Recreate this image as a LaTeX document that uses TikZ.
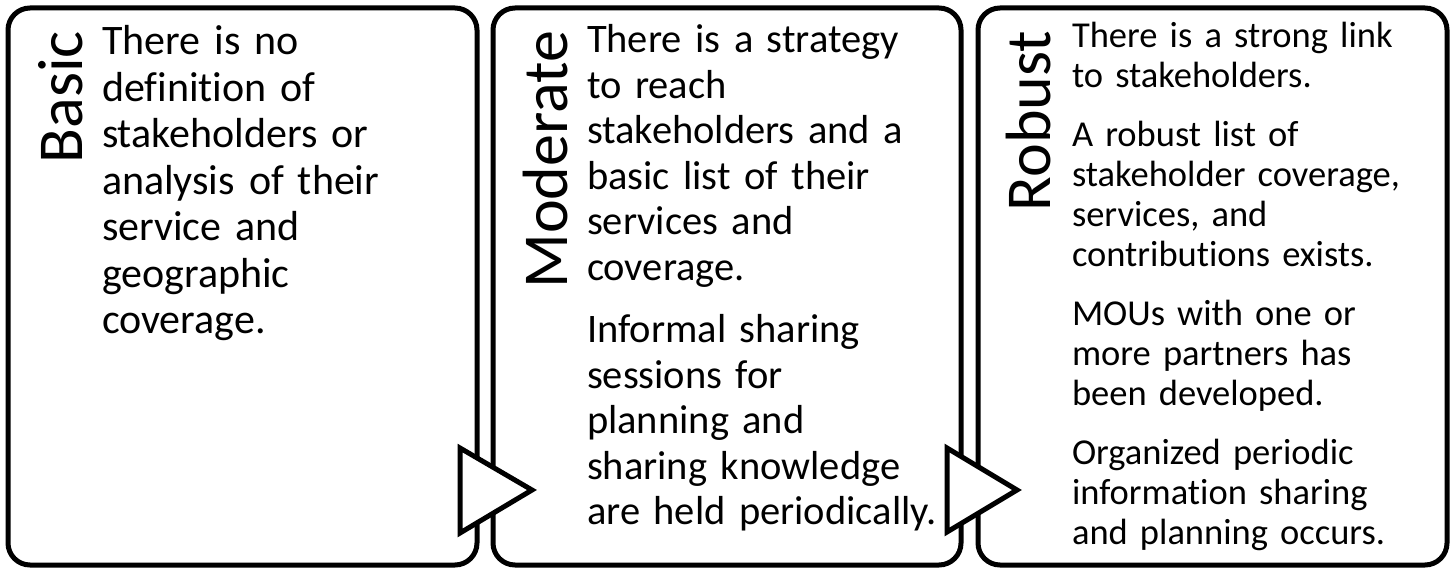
\documentclass[tikz,border=0pt]{standalone}
\usepackage{fontspec}
\setmainfont{Carlito}[Ligatures={NoCommon,NoContextual,NoRequired}, Contextuals=NoAlternate, WordSpace=0.78]
\tikzset{
  levelbox/.style={draw=black, line width=5pt, rounded corners=22pt, fill=white},
  leveltitle/.style={rotate=90, anchor=base east, font=\fontsize{64}{64}\selectfont},
  leveltext/.style={anchor=base west, align=left, text width=375pt},
  stepmark/.style={draw=black, line width=5pt, fill=white, line join=miter},
}
\begin{document}
\begin{tikzpicture}[x=1pt, y=-1pt, inner sep=0pt, outer sep=0pt]
\useasboundingbox (0,0) rectangle (1455,569);
% the three levels
\node[levelbox, minimum width=469pt, minimum height=557pt] (basicbox) at (242.5,286.5) {};
\node[levelbox, minimum width=468pt, minimum height=557pt] (moderatebox) at (727,286.5) {};
\node[levelbox, minimum width=469pt, minimum height=557pt] (robustbox) at (1212.5,286.5) {};
% steps between levels
\draw[stepmark] (460,448) -- (532,490) -- (460,533) -- cycle;
\draw[stepmark] (947,448) -- (1017,490) -- (947,532) -- cycle;
% titles
\node[leveltitle] (basictitle) at (82,31) {Basic};
\node[leveltitle] (moderatetitle) at (567,31) {Moderate};
\node[leveltitle] (robusttitle) at (1050,31) {Robust};
% texts
\node[leveltext, font=\fontsize{42}{46.5}\selectfont] (basictext) at (102,55) {There is no\\
definition of\\
stakeholders or\\
analysis of their\\
service and\\
geographic\\
coverage.};
\node[leveltext, font=\fontsize{40.5}{45.5}\selectfont] (moderatetext) at (587,53) {There is a strategy\\
to reach\\
stakeholders and a\\
basic list of their\\
services and\\
coverage.\\[17pt]
Informal sharing\\
sessions for\\
planning and\\
sharing knowledge\\
are held periodically.};
\node[leveltext, font=\fontsize{36.5}{40}\selectfont] (robusttext) at (1072,48) {There is a strong link\\
to stakeholders.\\[19pt]
A robust list of\\
stakeholder coverage,\\
services, and\\
contributions exists.\\[19pt]
MOUs with one or\\
more partners has\\
been developed.\\[19pt]
Organized periodic\\
information sharing\\
and planning occurs.};
\end{tikzpicture}
\end{document}
